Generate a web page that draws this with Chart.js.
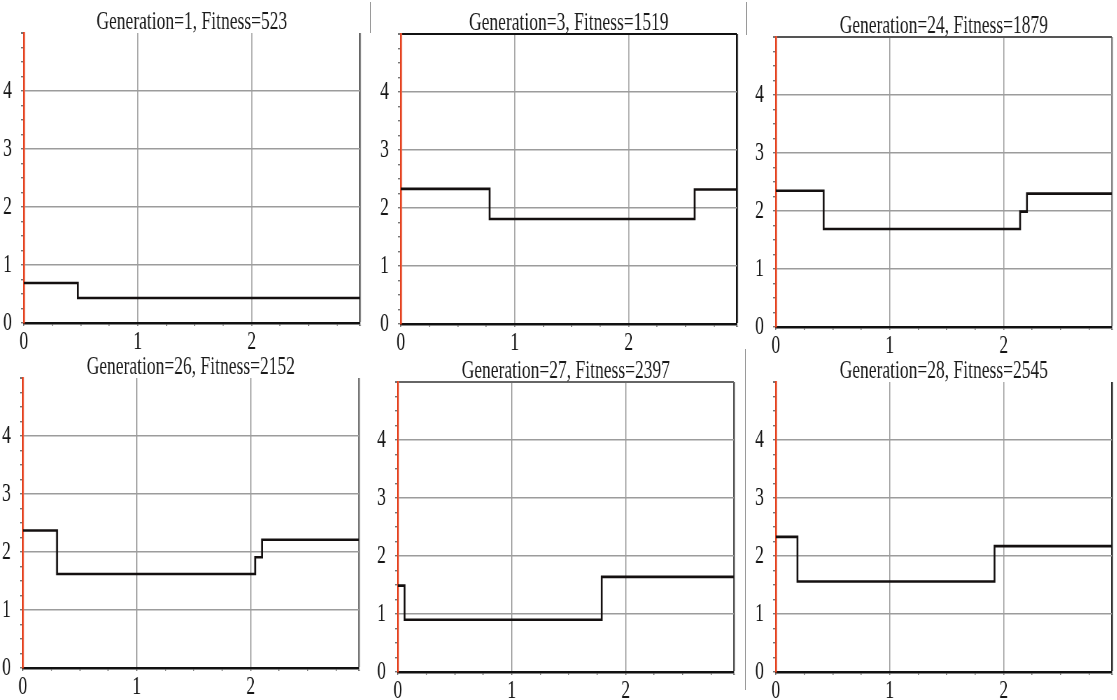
<!DOCTYPE html>
<html lang="en">
<head>
<meta charset="UTF-8">
<title>Generations</title>
<script src="https://cdn.jsdelivr.net/npm/chart.js"></script>
<style>
  html, body { margin: 0; padding: 0; background: #fff; overflow: hidden; }
  #wrap { position: relative; width: 1117px; height: 700px; overflow: hidden; }
  #wrap canvas { position: absolute; transform-origin: 0 0; }
  .sep { position: absolute; width: 1px; background: #9a9a9a; }
</style>
</head>
<body>
<div id="wrap">
  <div class="sep" style="left:370px;top:2px;height:31px"></div>
  <div class="sep" style="left:746px;top:2px;height:33px"></div>
  <div class="sep" style="left:745px;top:349px;height:341px"></div>
</div>

<script>
// values: each panel is a step function (breaks on x, level held until next break)
const titles = [
  'Generation=1, Fitness=523',
  'Generation=3, Fitness=1519',
  'Generation=24, Fitness=1879',
  'Generation=26, Fitness=2152',
  'Generation=27, Fitness=2397',
  'Generation=28, Fitness=2545'
];
const gen1Breaks = [0, 0.475];
const gen1Levels = [0.69, 0.43];
const gen3Breaks = [0, 0.78, 2.58];
const gen3Levels = [2.33, 1.81, 2.32];
const gen24Breaks = [0, 0.42, 2.145, 2.205];
const gen24Levels = [2.35, 1.69, 1.99, 2.30];
const gen26Breaks = [0, 0.30, 2.04, 2.10];
const gen26Levels = [2.37, 1.62, 1.91, 2.21];
const gen27Breaks = [0, 0.06, 1.79];
const gen27Levels = [1.49, 0.90, 1.64];
const gen28Breaks = [0, 0.19, 1.92];
const gen28Levels = [2.33, 1.56, 2.17];

const xMax = 2.95;
const yMax = 5;
const xTickLabels = [0, 1, 2];
const yTickLabels = [0, 1, 2, 3, 4];
const minorStep = 0.25;

// layout (screen px): top-left corner of each plot area
const plotCorners = [[24, 33], [401, 34], [776, 37], [23, 378], [398, 382], [776, 382]];
const topEdge = [null, '#111', '#555', null, '#666', null];
const rightEdge = ['#666', '#111', '#888', '#777', '#555', '#333'];

const K = 0.7;           // the original is squeezed horizontally
const TITLE_H = 40;
const TITLE_DROP = 1.5;  // small nudge towards the plot, kept clear of the top edge
const XAX_H = 30;
const PW = 369, PH = TITLE_H + 290 + XAX_H;
const IW = Math.round(PW / K);
const AXW = 34, PLOTW = 480;

const panels = [
  [gen1Breaks, gen1Levels], [gen3Breaks, gen3Levels], [gen24Breaks, gen24Levels],
  [gen26Breaks, gen26Levels], [gen27Breaks, gen27Levels], [gen28Breaks, gen28Levels]
];

function minorTicks(max) {
  const out = [];
  for (let i = 0; i * minorStep < max - 1e-9; i++) out.push({ value: i * minorStep });
  out.push({ value: max });
  return out;
}

function stepPoints(breaks, levels) {
  const pts = breaks.map((b, i) => ({ x: b, y: levels[i] }));
  pts.push({ x: xMax, y: levels[levels.length - 1] });
  return pts;
}

const serif = 'Liberation Serif';
Chart.defaults.font.family = serif;
const xTickFont = { family: serif, size: 25, weight: 'normal' };
const yTickFont = { family: serif, size: 25, weight: 'normal' };
const wrap = document.getElementById('wrap');

panels.forEach(([breaks, levels], i) => {
  const cv = document.createElement('canvas');
  cv.width = IW;
  cv.height = PH;
  cv.style.width = IW + 'px';
  cv.style.height = PH + 'px';
  cv.style.left = (plotCorners[i][0] - 24) + 'px';
  cv.style.top = (plotCorners[i][1] - TITLE_H) + 'px';
  cv.style.transform = 'scaleX(' + K + ')';
  wrap.appendChild(cv);

  new Chart(cv.getContext('2d'), {
    type: 'line',
    data: {
      datasets: [{
        data: stepPoints(breaks, levels),
        stepped: 'before',
        borderColor: '#141010',
        borderWidth: 2.6,
        pointRadius: 0,
        fill: false
      }]
    },
    options: {
      responsive: false,
      devicePixelRatio: 1,
      animation: false,
      layout: { padding: { left: 0, right: IW - AXW - PLOTW, top: 0, bottom: 0 } },
      plugins: {
        legend: { display: false },
        tooltip: { enabled: false },
        title: {
          display: true,
          fullSize: false,
          text: titles[i],
          color: '#1a1a1a',
          font: { family: serif, size: 25, weight: 'normal', lineHeight: 1 },
          padding: { top: TITLE_H - 25 + TITLE_DROP, bottom: -TITLE_DROP }
        }
      },
      scales: {
        x: {
          type: 'linear',
          min: 0,
          max: xMax,
          afterBuildTicks: s => { s.ticks = minorTicks(xMax); },
          afterFit: s => { s.height = XAX_H; },
          ticks: {
            autoSkip: false,
            maxRotation: 0,
            padding: 1,
            color: '#151515',
            font: xTickFont,
            callback: v => xTickLabels.includes(v) ? String(v) : ''
          },
          grid: {
            color: c => xTickLabels.includes(c.tick.value) ? '#9c9c9c'
              : (c.tick.value === xMax ? rightEdge[i] : 'transparent'),
            lineWidth: c => c.tick.value === xMax ? 2.6 : 1.5,
            tickColor: '#777',
            tickLength: 3
          },
          border: { color: '#111', width: 2.6 }
        },
        y: {
          min: 0,
          max: yMax,
          afterBuildTicks: s => { s.ticks = minorTicks(yMax); },
          afterFit: s => { s.width = AXW; },
          ticks: {
            autoSkip: false,
            padding: 13,
            color: '#151515',
            font: yTickFont,
            callback: v => yTickLabels.includes(v) ? String(v) : ''
          },
          grid: {
            color: c => yTickLabels.includes(c.tick.value) ? '#9c9c9c'
              : (c.tick.value === yMax && topEdge[i] ? topEdge[i] : 'transparent'),
            lineWidth: c => c.tick.value === yMax ? 2 : 1.4,
            tickColor: '#777',
            tickLength: 4
          },
          border: { color: '#e4421f', width: 2.6 }
        }
      }
    }
  });
});
</script>
</body>
</html>
